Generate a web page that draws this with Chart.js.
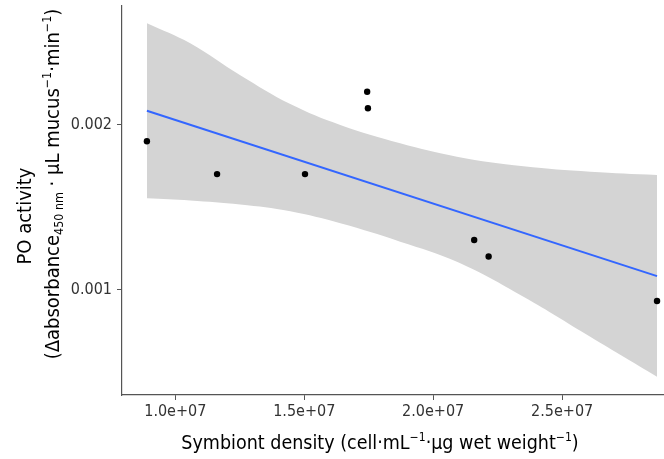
<!DOCTYPE html>
<html>
<head>
<meta charset="utf-8">
<script src="https://cdn.jsdelivr.net/npm/chart.js@4/dist/chart.umd.min.js"></script>
<style>
  html, body { margin: 0; padding: 0; background: #fff; overflow: hidden; }
  #wrap { width: 664px; height: 459px; }
</style>
</head>
<body>
<div id="wrap"><canvas id="c" width="664" height="459"></canvas></div>
<script>
// ---- data ----
const xTicks = [1.0e7, 1.5e7, 2.0e7, 2.5e7];
const yTicks = [0.001, 0.002];

const density    = [8.90e6, 1.162e7, 1.503e7, 1.744e7, 1.747e7, 2.159e7, 2.215e7, 2.868e7];
const poActivity = [0.00190, 0.00170, 0.00170, 0.00220, 0.00210, 0.00130, 0.00120, 0.00093];

const fitX = [8.90e6, 2.868e7];
const fitY = [0.002085, 0.001081];

const bandX     = [8.90e6, 1.058e7, 1.252e7, 1.446e7, 1.640e7, 1.872e7, 2.092e7, 2.350e7, 2.609e7, 2.868e7];
const bandUpper = [0.002616, 0.002494, 0.002300, 0.002125, 0.001998, 0.001887, 0.001806, 0.001748, 0.001715, 0.001695];
const bandLower = [0.001553, 0.001540, 0.001515, 0.001474, 0.001401, 0.001290, 0.001168, 0.000956, 0.000713, 0.000470];

// ---- styling ----
const FONT = "'Liberation Sans Narrow', 'Arial Narrow', 'DejaVu Sans Condensed', sans-serif";

const xyPairs = (xs, ys) => xs.map((x, i) => ({ x: x, y: ys[i] }));

function fmtSci(v) {
  return v.toExponential(1).replace(/e([+-])(\d)$/, 'e$10$2');
}

// rich text drawing (sub/superscripts) for axis titles
function drawRich(ctx, segs, size) {
  let total = 0;
  const parts = segs.map(([t, kind]) => {
    const s = kind === 'n' ? size : size * 0.62;
    ctx.font = s + 'px ' + FONT;
    const w = ctx.measureText(t).width;
    total += w;
    return { t, kind, s, w };
  });
  let x = -total / 2;
  for (const p of parts) {
    ctx.font = p.s + 'px ' + FONT;
    let dy = 0;
    if (p.kind === 'sup') dy = -size * 0.42;
    if (p.kind === 'sub') dy = size * 0.22;
    ctx.fillText(p.t, x, dy);
    x += p.w;
  }
}

const titlePlugin = {
  id: 'titles',
  afterDraw(chart) {
    const ctx = chart.ctx;
    ctx.save();
    ctx.fillStyle = '#000';
    ctx.textBaseline = 'alphabetic';
    ctx.textAlign = 'left';
    ctx.save();
    ctx.translate(380, 449);
    drawRich(ctx, [
      ['Symbiont density (cell·mL', 'n'], ['\u22121', 'sup'],
      ['·µg wet weight', 'n'], ['\u22121', 'sup'], [')', 'n']
    ], 19.5);
    ctx.restore();
    ctx.save();
    ctx.translate(31, 216);
    ctx.rotate(-Math.PI / 2);
    drawRich(ctx, [['PO activity', 'n']], 20);
    ctx.restore();
    ctx.save();
    ctx.translate(59, 184);
    ctx.rotate(-Math.PI / 2);
    drawRich(ctx, [
      ['(\u0394absorbance', 'n'], ['450 nm', 'sub'], [' · µL mucus', 'n'],
      ['\u22121', 'sup'], ['·min', 'n'], ['\u22121', 'sup'], [')', 'n']
    ], 20);
    ctx.restore();
    ctx.restore();
  }
};

function noPad(s) {
  s.paddingLeft = 0; s.paddingRight = 0; s.paddingTop = 0; s.paddingBottom = 0;
}

new Chart(document.getElementById('c'), {
  type: 'scatter',
  data: {
    datasets: [
      {
        label: 'points',
        data: xyPairs(density, poActivity),
        backgroundColor: '#000',
        borderWidth: 0,
        pointRadius: 3.2,
        showLine: false,
        order: 0
      },
      {
        label: 'fit',
        data: xyPairs(fitX, fitY),
        showLine: true,
        borderColor: '#3366FF',
        borderWidth: 2,
        pointRadius: 0,
        fill: false,
        order: 1
      },
      {
        label: 'lower',
        data: xyPairs(bandX, bandLower),
        showLine: true,
        borderWidth: 0,
        borderColor: 'rgba(0,0,0,0)',
        pointRadius: 0,
        tension: 0.4,
        fill: false,
        order: 3
      },
      {
        label: 'upper',
        data: xyPairs(bandX, bandUpper),
        showLine: true,
        borderWidth: 0,
        borderColor: 'rgba(0,0,0,0)',
        backgroundColor: 'rgb(212,212,212)',
        pointRadius: 0,
        tension: 0.4,
        fill: { target: 2 },
        order: 2
      }
    ]
  },
  options: {
    responsive: false,
    animation: false,
    devicePixelRatio: 1,
    layout: { autoPadding: false, padding: { left: 0, right: 0, top: 6, bottom: 0 } },
    plugins: { legend: { display: false }, tooltip: { enabled: false } },
    scales: {
      x: {
        type: 'linear',
        min: 7.934e6,
        max: 2.895e7,
        afterBuildTicks: s => { s.ticks = xTicks.map(v => ({ value: v })); },
        afterFit: s => { s.height = 64; noPad(s); },
        ticks: {
          callback: v => fmtSci(v),
          font: { family: FONT, size: 16 },
          color: '#333',
          padding: 2,
          maxRotation: 0,
          autoSkip: false
        },
        grid: { display: true, drawOnChartArea: false, drawTicks: true, tickLength: 5, color: '#555' },
        border: { display: true, color: '#555', width: 1.2 },
        title: { display: false }
      },
      y: {
        type: 'linear',
        min: 0.000359,
        max: 0.0027207,
        afterBuildTicks: s => { s.ticks = yTicks.map(v => ({ value: v })); },
        afterFit: s => { s.width = 122; noPad(s); },
        ticks: {
          callback: v => v.toFixed(3),
          font: { family: FONT, size: 16 },
          color: '#333',
          padding: 5,
          autoSkip: false
        },
        grid: { display: true, drawOnChartArea: false, drawTicks: true, tickLength: 5, color: '#555' },
        border: { display: true, color: '#555', width: 1.2 },
        title: { display: false }
      }
    }
  },
  plugins: [titlePlugin]
});
</script>
</body>
</html>
